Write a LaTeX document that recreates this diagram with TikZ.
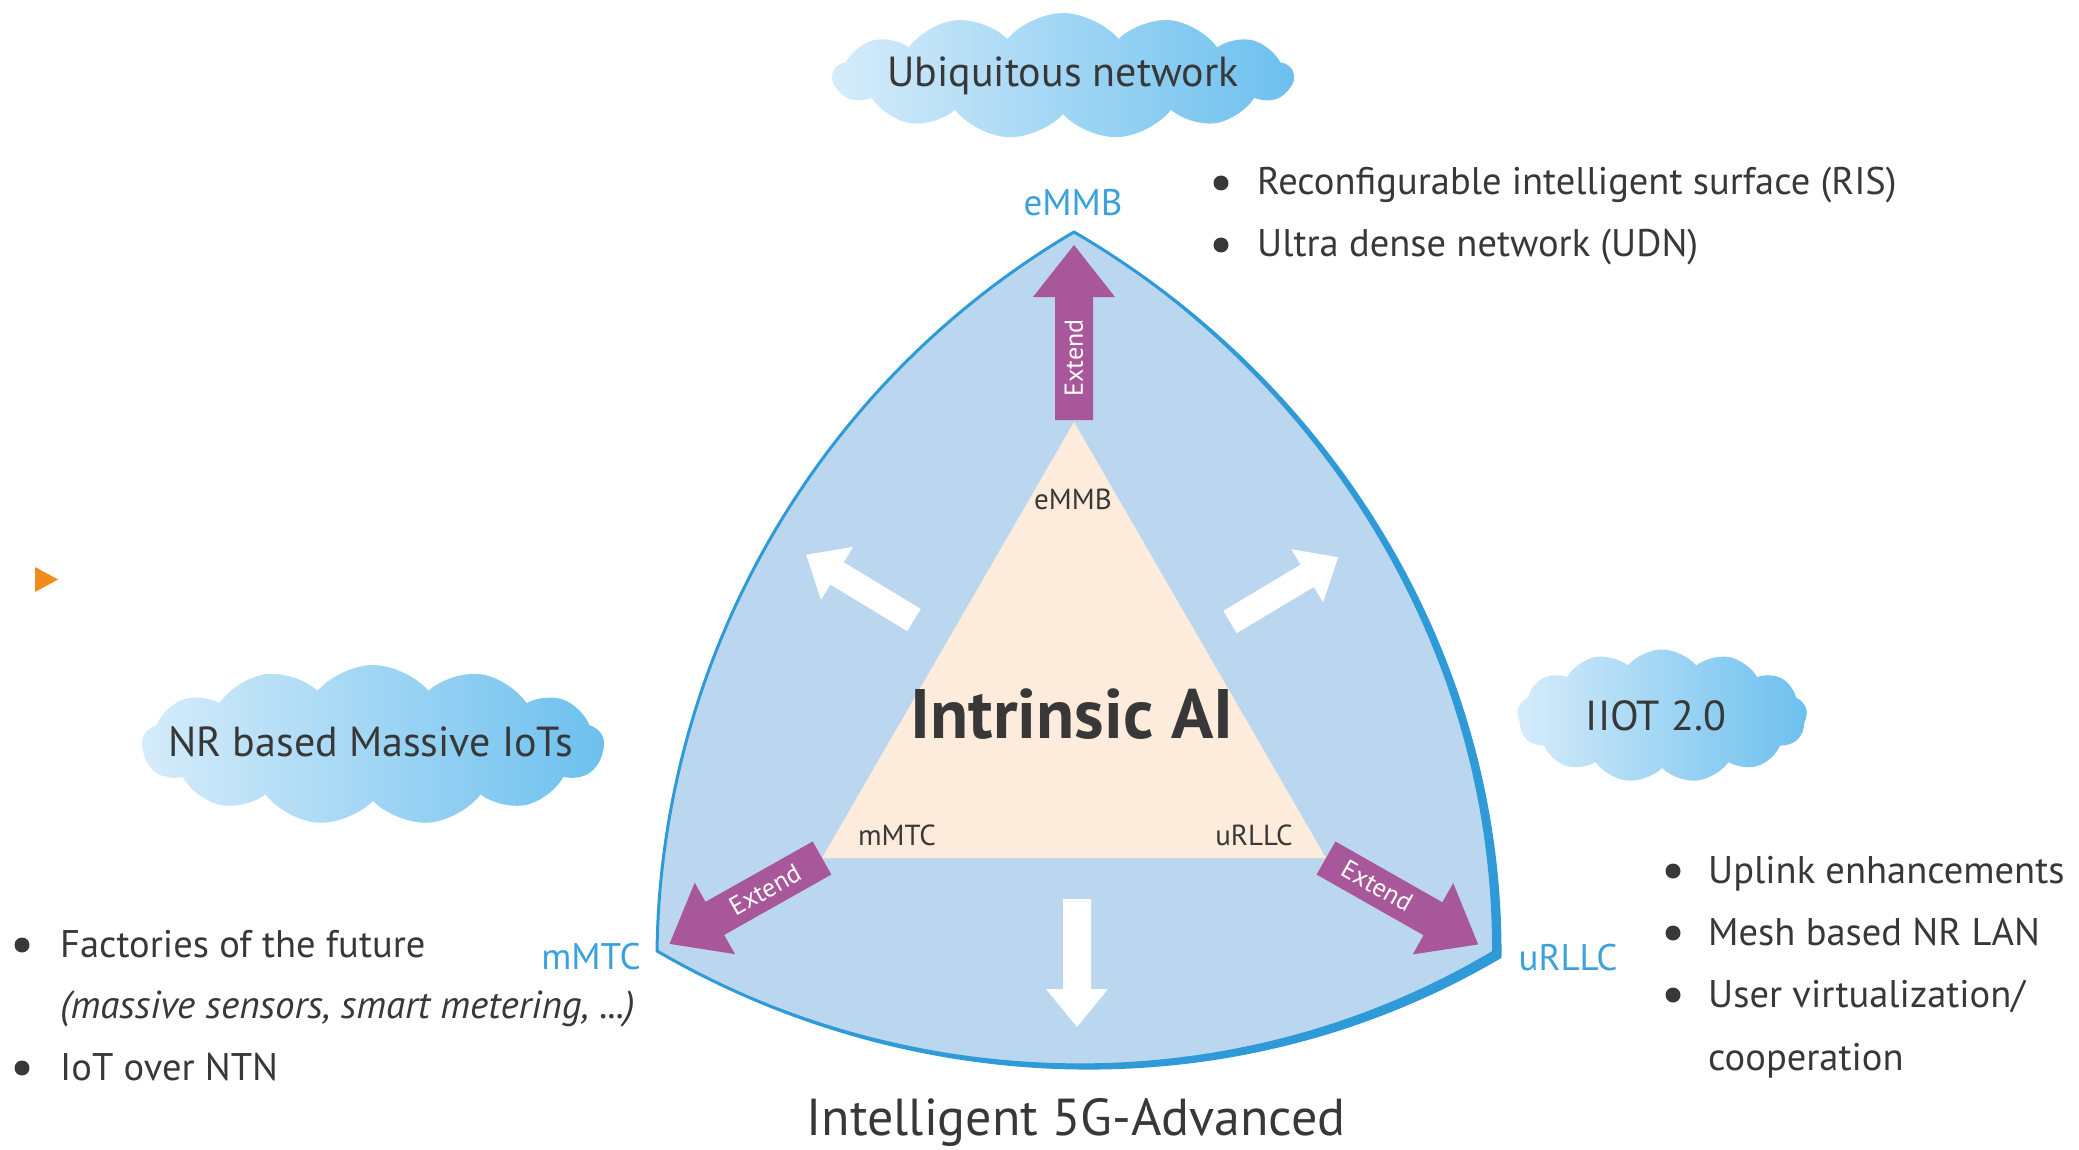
\documentclass[tikz,border=0pt]{standalone}
\usepackage{fontspec}
\setmainfont{PT Sans}
\usetikzlibrary{shapes.symbols}
\definecolor{fillblue}{HTML}{BBD7F0}
\definecolor{edgeblue}{HTML}{2F9AD8}
\definecolor{peach}{HTML}{FDEBDB}
\definecolor{extpurple}{HTML}{A8579A}
\definecolor{lblblue}{HTML}{3BA1DB}
\definecolor{txt}{HTML}{383838}
\definecolor{cloudL}{HTML}{D6ECFA}
\definecolor{cloudR}{HTML}{6CC0EE}
\definecolor{orng}{HTML}{F28A1E}
\newcommand{\fs}[1]{\fontsize{#1}{#1}\selectfont}
% block arrow: #1 tail, #2 angle, #3 colour, #4 length, #5 shaft half, #6 head half, #7 head length
\newcommand{\blockarrow}[7]{%
  \begin{scope}[shift={#1}, rotate=#2]
    \fill[#3] (0,#5) -- ({#4-#7},#5) -- ({#4-#7},#6) -- (#4,0) -- ({#4-#7},-#6) -- ({#4-#7},-#5) -- (0,-#5) -- cycle;
  \end{scope}}
\begin{document}
\begin{tikzpicture}[x=1pt,y=-1pt,
  bul/.style={circle, fill=txt, inner sep=0pt, minimum size=15pt},
  bultext/.style={anchor=base west, inner sep=0pt, text=txt, font=\fs{38.5}},
  vlabel/.style={anchor=base, inner sep=0pt, text=lblblue, font=\fs{37}},
  ilabel/.style={anchor=base, inner sep=0pt, text=txt, font=\fs{29}},
  exttext/.style={inner sep=0pt, text=white, font=\fs{26}},
  cloudnode/.style={cloud, cloud puffs=13, cloud puff arc=100, cloud ignores aspect,
    left color=cloudL, right color=cloudR, draw=none, inner sep=0pt},
  cloudtext/.style={inner sep=0pt, text=txt, font=\fs{42}},
]
\useasboundingbox (0,0) rectangle (2079,1150);

% outer Reuleaux-like shape
\coordinate (A) at (1074,232);
\coordinate (L) at (657,951);
\coordinate (R) at (1500,957);
\fill[fillblue] (A) .. controls (819,382) and (661,655) .. (L)
  .. controls (917,1102) and (1240,1110) .. (R)
  .. controls (1502,657) and (1333,383) .. (A) -- cycle;
\draw[edgeblue, line width=3pt, line join=round] (A) .. controls (819,382) and (661,655) .. (L)
  .. controls (917,1102) and (1240,1110) .. (R)
  .. controls (1502,657) and (1333,383) .. (A) -- cycle;
\fill[edgeblue] (A) .. controls (1333,383) and (1502,657) .. (R)
  -- (1492,954) .. controls (1494,657) and (1329,386) .. (A) -- cycle;
\fill[edgeblue] (L) .. controls (917,1102) and (1240,1110) .. (R)
  -- (1494,950) .. controls (1238,1103) and (919,1099) .. (L) -- cycle;

% inner triangle
\coordinate (iT) at (1074,422);
\coordinate (iL) at (822,858);
\coordinate (iR) at (1326,858);
\fill[peach] (iT) -- (iL) -- (iR) -- cycle;

% white arrows
\blockarrow{(914,620)}{148.8}{white}{126}{13}{31}{36}
\blockarrow{(1230,622)}{30.9}{white}{126}{13}{31}{36}
\blockarrow{(1077,899)}{-90}{white}{128}{14}{31}{38}

% Extend arrows
\blockarrow{(1074,420)}{90}{extpurple}{175}{19}{41}{52}
\blockarrow{(822,858)}{209.4}{extpurple}{175}{19}{41}{52}
\blockarrow{(1326,858)}{-29.6}{extpurple}{175}{19}{41}{52}
\node[exttext, rotate=90] (e1) at (1074,358) {Extend};
\node[exttext, rotate=29.4] (e2) at (765,890) {Extend};
\node[exttext, rotate=-29.6] (e3) at (1377,886) {Extend};

% inner labels
\node[ilabel] (ie) at (1073,509) {eMMB};
\node[ilabel] (im) at (897,845) {mMTC};
\node[ilabel] (iu) at (1254,845) {uRLLC};
\node[anchor=base, inner sep=0pt, text=txt, font=\fs{70}\bfseries] (ai) at (1072,738) {Intrinsic AI};

% vertex labels
\node[vlabel] (ve) at (1073,216) {eMMB};
\node[vlabel] (vm) at (591,969) {mMTC};
\node[vlabel] (vu) at (1568,970) {uRLLC};

% clouds
\node[cloudnode, minimum width=460pt, minimum height=126pt] (c1) at (1063,76) {};
\node[cloudtext] (c1t) at (c1) {Ubiquitous network};
\node[cloudnode, minimum width=462pt, minimum height=160pt] (c2) at (373,745) {};
\node[cloudtext] (c2t) at (371,742) {NR based Massive IoTs};
\node[cloudnode, minimum width=290pt, minimum height=133pt] (c3) at (1662,716) {};
\node[cloudtext] (c3t) at (1656,716) {IIOT 2.0};

% top-right bullets
\node[bul] (b1) at (1221,183) {};
\node[bultext] (t1) at (1257,195) {Reconfigurable intelligent surface (RIS)};
\node[bul] (b2) at (1221,245) {};
\node[bultext] (t2) at (1257,257) {Ultra dense network (UDN)};

% right bullets
\node[bul] (b3) at (1673,871) {};
\node[bultext] (t3) at (1708,883) {Uplink enhancements};
\node[bul] (b4) at (1673,933) {};
\node[bultext] (t4) at (1708,945) {Mesh based NR LAN};
\node[bul] (b5) at (1673,995) {};
\node[bultext] (t5) at (1708,1007) {User virtualization/};
\node[bultext] (t6) at (1708,1070) {cooperation};

% left bullets
\node[bul] (b6) at (22,945) {};
\node[bultext] (t7) at (60,957) {Factories of the future};
\node[bultext, font=\fs{39}\itshape] (t8) at (60,1018) {(massive sensors, smart metering, ...)};
\node[bul] (b7) at (22,1068) {};
\node[bultext] (t9) at (60,1080) {IoT over NTN};

% bottom title
\node[anchor=base, inner sep=0pt, text=txt, font=\fs{52}] (title) at (1076,1135) {Intelligent 5G-Advanced};

% orange marker
\fill[orng] (35,567) -- (58,579.5) -- (35,592) -- cycle;
\end{tikzpicture}
\end{document}
